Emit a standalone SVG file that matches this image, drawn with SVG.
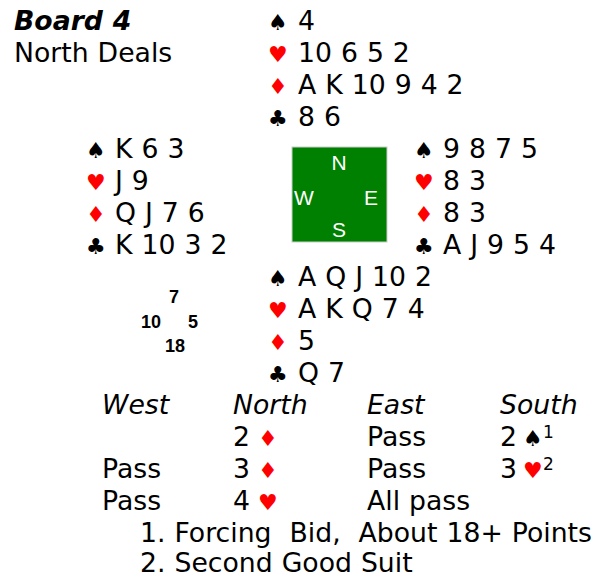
<svg xmlns="http://www.w3.org/2000/svg" width="603" height="576" viewBox="0 0 603 576">
<style>
text{font-family:"DejaVu Sans",Verdana,sans-serif;font-size:26.7px;fill:#000;word-spacing:0.5px}
.s{font-size:22px}
.r{fill:#ff0000}
.bi{font-weight:bold;font-style:italic}
.i{font-style:italic}
.sup{font-size:17px}
.c{font-family:"Liberation Sans",Arial,sans-serif;font-size:21px;fill:#fff}
.h{font-family:"Liberation Sans",Arial,sans-serif;font-size:18px;font-weight:bold}
.fn{white-space:pre}
</style>
<rect width="603" height="576" fill="#fff"/>
<g id="info">
<text x="14" y="30" class="bi">Board 4</text>
<text x="14" y="62">North Deals</text>
</g>
<g id="north">
<text x="268" y="30" class="s">♠</text><text x="298" y="30">4</text>
<text x="268" y="62" class="s r">♥</text><text x="298" y="62">10 6 5 2</text>
<text x="268" y="94" class="s r">♦</text><text x="298" y="94">A K 10 9 4 2</text>
<text x="268" y="126" class="s">♣</text><text x="298" y="126">8 6</text>
</g>
<g id="west">
<text x="86" y="158" class="s">♠</text><text x="115" y="158">K 6 3</text>
<text x="86" y="190" class="s r">♥</text><text x="115" y="190">J 9</text>
<text x="86" y="222" class="s r">♦</text><text x="115" y="222">Q J 7 6</text>
<text x="86" y="254" class="s">♣</text><text x="115" y="254">K 10 3 2</text>
</g>
<g id="east">
<text x="414" y="158" class="s">♠</text><text x="443" y="158">9 8 7 5</text>
<text x="414" y="190" class="s r">♥</text><text x="443" y="190">8 3</text>
<text x="414" y="222" class="s r">♦</text><text x="443" y="222">8 3</text>
<text x="414" y="254" class="s">♣</text><text x="443" y="254">A J 9 5 4</text>
</g>
<g id="south">
<text x="268" y="286" class="s">♠</text><text x="298" y="286">A Q J 10 2</text>
<text x="268" y="318" class="s r">♥</text><text x="298" y="318">A K Q 7 4</text>
<text x="268" y="350" class="s r">♦</text><text x="298" y="350">5</text>
<text x="268" y="382" class="s">♣</text><text x="298" y="382">Q 7</text>
</g>
<g id="compass">
<rect x="292" y="147" width="95" height="95" fill="#008000" stroke="#cccccc" stroke-width="1"/>
<text x="339" y="170" class="c" text-anchor="middle">N</text>
<text x="304" y="205" class="c" text-anchor="middle">W</text>
<text x="371" y="205" class="c" text-anchor="middle">E</text>
<text x="339" y="237" class="c" text-anchor="middle">S</text>
</g>
<g id="hcp">
<text x="169" y="303" class="h">7</text>
<text x="141" y="328" class="h">10</text>
<text x="188" y="328" class="h">5</text>
<text x="165" y="352" class="h">18</text>
</g>
<g id="auction">
<text x="102" y="414" class="i">West</text>
<text x="233" y="414" class="i">North</text>
<text x="367" y="414" class="i">East</text>
<text x="500" y="414" class="i">South</text>
<text x="233" y="446">2</text><text x="258" y="446" class="s r">♦</text>
<text x="367" y="446">Pass</text>
<text x="500" y="446">2</text><text x="523" y="446" class="s">♠</text><text x="543" y="438" class="sup">1</text>
<text x="102" y="478">Pass</text>
<text x="233" y="478">3</text><text x="258" y="478" class="s r">♦</text>
<text x="367" y="478">Pass</text>
<text x="500" y="478">3</text><text x="523" y="478" class="s r">♥</text><text x="543" y="470" class="sup">2</text>
<text x="102" y="510">Pass</text>
<text x="233" y="510">4</text><text x="258" y="510" class="s r">♥</text>
<text x="367" y="510">All pass</text>
</g>
<g id="notes">
<text x="140" y="542" class="fn" xml:space="preserve">1. Forcing  Bid,  About 18+ Points</text>
<text x="140" y="572">2. Second Good Suit</text>
</g>
</svg>
